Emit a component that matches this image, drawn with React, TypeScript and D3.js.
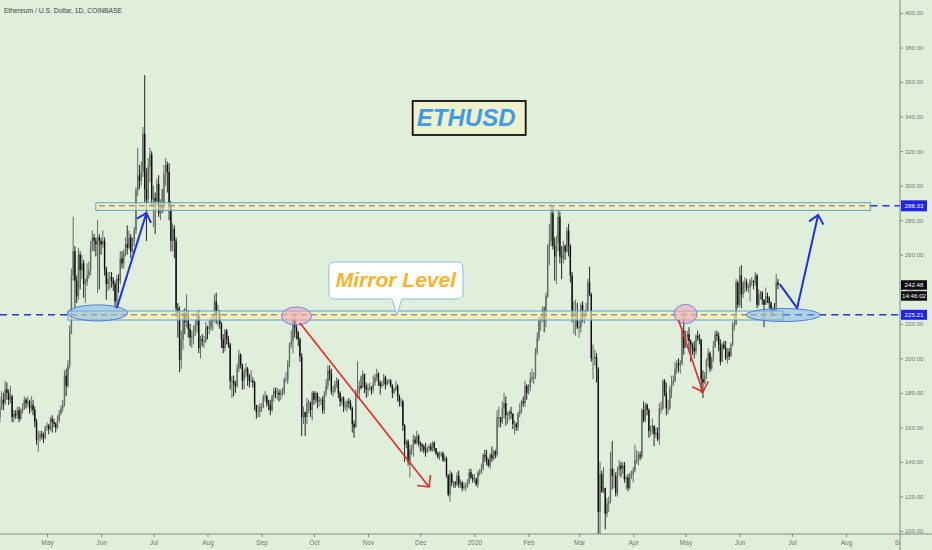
import { useEffect, useRef } from "react";
import * as d3 from "d3";

const W = 932;
const H = 550;
const PLOT_RIGHT = 900;
const PLOT_BOTTOM = 534;
const FONT = "'Liberation Sans', Arial, sans-serif";

// daily candles, [close, high, low]; open = previous close
const firstOpen = 163;
const firstDay = "2019-04-03";

const apr2019 = [
  [166, 184, 160], [172, 178, 163], [176, 181, 170], [174, 180, 170], [182, 187, 173], [180, 186, 176], [176, 182, 173], [178, 184, 174],
  [166, 179, 163], [168, 170, 163], [167, 170, 165], [170, 172, 165], [165, 172, 163], [170, 171, 164], [171, 174, 168], [176, 178, 170],
  [174, 177, 171], [175, 178, 172], [171, 176, 168], [173, 178, 169], [170, 176, 167], [163, 172, 160], [153, 165, 150], [154, 158, 146],
  [156, 158, 152], [155, 158, 153], [154, 157, 151], [160, 161, 153],
];
const may2019 = [
  [161, 163, 158], [159, 162, 156], [165, 166, 158], [163, 167, 157], [162, 165, 160], [160, 163, 157], [164, 167, 159], [168, 170, 163], [171, 173, 167], [173, 176, 169],
  [190, 193, 172], [184, 194, 178], [196, 199, 183], [216, 219, 194], [248, 252, 214], [262, 282, 245], [245, 265, 229], [236, 248, 232], [260, 264, 234], [251, 262, 240],
  [255, 260, 246], [243, 257, 235], [244, 246, 232], [248, 255, 242], [251, 256, 246], [264, 268, 248], [270, 274, 262], [268, 272, 262], [266, 270, 259], [270, 280, 238], [268, 272, 240],
];
const jun2019 = [
  [266, 270, 260], [268, 274, 264], [252, 270, 248], [243, 253, 234], [246, 250, 239], [247, 250, 240], [245, 250, 241], [243, 247, 239], [233, 245, 229], [246, 248, 231],
  [245, 249, 238], [258, 262, 243], [255, 262, 252], [261, 263, 252], [266, 270, 259], [264, 277, 260], [270, 274, 263], [262, 272, 258], [268, 270, 261], [274, 276, 265],
  [297, 299, 272], [306, 322, 294], [303, 312, 298], [308, 314, 300], [330, 334, 305], [298, 364, 290], [292, 310, 268], [311, 316, 290], [318, 322, 302], [292, 320, 288],
];
const jul2019 = [
  [293, 300, 276], [291, 296, 272], [301, 304, 288], [284, 306, 282], [288, 292, 280], [287, 298, 284], [307, 312, 285], [312, 316, 300], [308, 314, 296], [288, 313, 280],
  [268, 291, 262], [275, 278, 262], [268, 277, 258], [229, 270, 224], [227, 232, 212], [199, 230, 192], [211, 216, 194], [226, 228, 205], [221, 229, 214], [226, 237, 218],
  [217, 228, 212], [212, 220, 207], [213, 216, 206], [216, 219, 208], [219, 222, 213], [225, 227, 215], [206, 228, 203], [211, 213, 200], [210, 214, 207], [210, 213, 206], [218, 221, 209],
];
const aug2019 = [
  [217, 219, 211], [218, 222, 214], [222, 224, 216], [222, 225, 216], [233, 237, 221], [225, 238, 220], [226, 231, 219], [220, 228, 217], [211, 221, 206], [206, 214, 203],
  [216, 217, 204], [211, 217, 208], [208, 213, 206], [187, 209, 182], [187, 190, 177], [185, 190, 178], [184, 187, 180], [194, 197, 183], [202, 205, 192], [196, 203, 194],
  [187, 197, 182], [192, 194, 182], [194, 197, 189], [190, 195, 184], [187, 191, 183], [187, 193, 186], [186, 189, 183], [173, 187, 170], [169, 173, 165], [169, 173, 166], [172, 174, 166],
];
const sep2019 = [
  [172, 174, 169], [178, 179, 171], [178, 181, 175], [174, 179, 172], [173, 176, 170], [170, 176, 167], [178, 179, 169], [181, 183, 175], [180, 183, 177], [180, 183, 176],
  [179, 182, 175], [180, 182, 176], [180, 183, 178], [188, 189, 179], [188, 192, 186], [197, 199, 185], [208, 209, 195], [210, 216, 206], [222, 224, 203], [218, 226, 212],
  [215, 220, 211], [211, 216, 207], [201, 212, 198], [166, 203, 155], [169, 172, 162], [166, 169, 155], [174, 177, 162], [174, 176, 168], [170, 175, 166], [180, 181, 164],
];
const oct2019 = [
  [176, 181, 173], [180, 181, 174], [175, 180, 171], [176, 178, 172], [176, 177, 173], [170, 178, 168], [180, 181, 168], [184, 188, 178], [193, 196, 182], [191, 196, 187],
  [181, 194, 179], [181, 184, 178], [185, 187, 180], [187, 189, 183], [180, 188, 177], [175, 181, 172], [177, 178, 173], [172, 178, 169], [172, 175, 170], [175, 176, 169],
  [174, 177, 171], [171, 176, 170], [162, 172, 157], [160, 164, 154], [180, 182, 160], [180, 198, 177], [184, 187, 176], [183, 190, 182], [191, 193, 183], [184, 191, 180], [182, 186, 177],
];
const nov2019 = [
  [183, 185, 178], [183, 186, 181], [182, 184, 179], [186, 190, 180], [189, 191, 184], [191, 194, 187], [186, 192, 184], [184, 187, 179], [185, 187, 183], [189, 191, 184],
  [185, 190, 182], [187, 188, 184], [187, 188, 185], [184, 188, 183], [180, 185, 177], [182, 183, 179], [184, 187, 181], [178, 185, 175], [175, 179, 172], [175, 177, 172],
  [161, 176, 158], [150, 162, 140], [152, 153, 148], [140, 153, 138], [147, 150, 131], [148, 150, 144], [153, 156, 143], [151, 155, 150], [155, 158, 150], [151, 156, 149],
];
const dec2019 = [
  [150, 152, 146], [149, 151, 146], [147, 150, 145], [146, 151, 143], [148, 149, 145], [149, 150, 146], [147, 151, 146], [151, 152, 146], [148, 152, 146], [145, 148, 144],
  [143, 146, 142], [144, 146, 141], [145, 146, 143], [141, 146, 140], [142, 144, 140], [132, 143, 131], [121, 133, 120], [133, 135, 117], [128, 134, 126], [128, 129, 125],
  [127, 129, 125], [132, 134, 126], [127, 135, 125], [128, 130, 125], [125, 129, 123], [126, 128, 124], [126, 128, 123], [128, 130, 125], [134, 136, 127], [131, 136, 130], [130, 133, 128],
];
const jan2020 = [
  [130, 133, 128], [127, 131, 126], [134, 135, 125], [134, 136, 132], [136, 139, 133], [144, 145, 135], [143, 147, 140], [141, 147, 138], [138, 142, 137], [144, 145, 136],
  [142, 149, 140], [146, 147, 141], [144, 147, 142], [166, 170, 143], [166, 172, 160], [163, 166, 160], [171, 175, 162], [174, 180, 165], [167, 178, 161], [167, 169, 162],
  [169, 170, 164], [168, 172, 165], [162, 168, 159], [162, 164, 156], [160, 163, 158], [168, 169, 158], [170, 174, 166], [175, 176, 168], [174, 178, 172], [184, 187, 172], [180, 185, 176],
];
const feb2020 = [
  [183, 185, 179], [188, 192, 181], [189, 194, 186], [189, 192, 185], [204, 206, 188], [212, 215, 202], [222, 224, 210], [223, 226, 216], [228, 230, 221], [222, 230, 215],
  [236, 238, 218], [265, 266, 235], [268, 278, 254], [284, 289, 265], [265, 288, 263], [259, 270, 245], [267, 271, 243], [282, 286, 262], [259, 285, 255], [258, 265, 246],
  [265, 268, 255], [262, 266, 257], [274, 276, 261], [265, 278, 259], [248, 266, 244], [224, 250, 221], [227, 233, 214], [227, 234, 213], [218, 232, 217],
];
const mar2020 = [
  [218, 222, 212], [231, 232, 215], [224, 233, 221], [224, 228, 220], [228, 232, 223], [244, 246, 227], [237, 253, 236], [200, 238, 198], [200, 208, 188], [201, 205, 196],
  [194, 203, 186], [111, 195, 98], [133, 140, 90], [123, 135, 122], [125, 137, 122], [110, 125, 101], [116, 119, 108], [117, 120, 111], [136, 146, 116], [132, 152, 124],
  [132, 136, 125], [122, 134, 120], [135, 137, 120], [138, 141, 132], [136, 140, 131], [138, 140, 133], [130, 140, 128], [131, 132, 124], [125, 133, 123], [132, 134, 124], [133, 135, 130],
];
const apr2020 = [
  [135, 137, 128], [141, 150, 134], [141, 147, 139], [144, 146, 138], [143, 146, 141], [170, 171, 142], [164, 175, 163], [173, 174, 163], [170, 174, 167], [158, 171, 154],
  [158, 161, 155], [161, 165, 156], [156, 161, 149], [157, 160, 154], [153, 160, 152], [171, 174, 150], [171, 175, 168], [187, 188, 170], [180, 188, 178], [171, 186, 167],
  [171, 176, 168], [182, 184, 170], [185, 190, 177], [187, 190, 184], [194, 198, 186], [197, 199, 191], [196, 200, 192], [197, 199, 191], [216, 218, 196], [206, 227, 202],
];
const may2020 = [
  [212, 216, 206], [214, 216, 210], [210, 218, 205], [208, 211, 198], [206, 209, 202], [204, 210, 200], [213, 214, 202], [212, 216, 210], [211, 214, 208], [188, 211, 180],
  [186, 193, 177], [190, 192, 185], [199, 200, 188], [203, 206, 195], [194, 204, 192], [200, 201, 193], [207, 210, 198], [214, 216, 206], [213, 216, 210], [208, 215, 204],
  [198, 211, 196], [208, 209, 198], [206, 210, 205], [200, 210, 199], [204, 206, 197], [201, 206, 199], [208, 209, 201], [219, 221, 207], [220, 225, 216], [244, 246, 219], [231, 245, 229],
];
const jun2020 = [
  [248, 253, 230], [237, 254, 229], [244, 245, 235], [244, 247, 238], [241, 246, 239], [241, 243, 238], [245, 246, 233], [245, 247, 242], [244, 245, 240], [248, 250, 242],
  [231, 249, 229], [237, 240, 230], [238, 239, 234], [234, 239, 231], [231, 234, 218], [236, 241, 231], [235, 238, 232], [232, 236, 229], [228, 233, 224], [229, 230, 224],
  [228, 232, 227], [244, 249, 227], [242.48, 246, 240],
];

const monthsData = [
  apr2019, may2019, jun2019, jul2019, aug2019, sep2019, oct2019, nov2019, dec2019,
  jan2020, feb2020, mar2020, apr2020, may2020, jun2020,
];

const priceTicks = [100, 120, 140, 160, 180, 200, 220, 240, 260, 280, 300, 320, 340, 360, 380, 400];
const monthTickDates = [
  "2019-05-01", "2019-06-01", "2019-07-01", "2019-08-01", "2019-09-01", "2019-10-01", "2019-11-01", "2019-12-01",
  "2020-01-01", "2020-02-01", "2020-03-01", "2020-04-01", "2020-05-01", "2020-06-01", "2020-07-01", "2020-08-01", "2020-09-01",
];
const monthTickLabels = ["May", "Jun", "Jul", "Aug", "Sep", "Oct", "Nov", "Dec", "2020", "Feb", "Mar", "Apr", "May", "Jun", "Jul", "Aug", "Sep"];

// drawings
const upperZone = { from: "2019-05-29", to: "2020-08-15", low: 285.7, high: 290.1, level: 288.33 };
const lowerZone = { from: "2019-05-13", to: "2020-06-26", low: 222.2, high: 227.4, level: 225.21 };
const lastPrice = 242.48;
const countdown = "14:46:02";

const blueEllipses = [
  { date: "2019-05-30", price: 226.3, rx: 30, ry: 8 },
  { date: "2020-06-26", price: 225.1, rx: 37, ry: 6.5 },
];
const pinkEllipses = [
  { date: "2019-09-21", price: 224.5, rx: 15, ry: 9 },
  { date: "2020-05-01", price: 225.7, rx: 11.5, ry: 9.5 },
];
const blueArrows: [string, number][][] = [
  [["2019-06-10", 229.1], ["2019-06-27", 284.2]],
  [["2020-06-24", 243.0], ["2020-07-04", 229.1], ["2020-07-16", 283.0]],
];
const redArrows: [string, number][][] = [
  [["2019-09-23", 220.5], ["2019-12-06", 125.5]],
  [["2020-04-27", 222.2], ["2020-05-11", 180.5]],
];
const titleLabel = { text: "ETHUSD", date: "2019-12-29", price: 339.2 };
const calloutLabel = { text: "Mirror Level", date: "2019-11-17", price: 245.1, tipPrice: 225.2 };

const parse = d3.utcParse("%Y-%m-%d");

interface Candle { date: Date; open: number; high: number; low: number; close: number; }

const candles: Candle[] = [];
{
  let prev = firstOpen;
  const start = parse(firstDay) as Date;
  monthsData.flat().forEach(([c, h, l], i) => {
    candles.push({
      date: d3.utcDay.offset(start, i),
      open: prev,
      close: c,
      high: Math.max(h, prev, c),
      low: Math.min(l, prev, c),
    });
    prev = c;
  });
}

export default function App() {
  const ref = useRef<SVGSVGElement>(null);

  useEffect(() => {
    if (!ref.current) return;
    const svg = d3.select(ref.current);
    svg.selectAll("*").remove();

    const x = d3
      .scaleUtc()
      .domain([parse("2019-05-01") as Date, parse("2020-08-01") as Date])
      .range([47, 846]);
    const y = d3.scaleLinear().domain([100, 400]).range([531, 13]);
    const X = (d: string) => x(parse(d) as Date);

    svg.append("rect").attr("width", W).attr("height", H).attr("fill", "#dfefdb");

    const defs = svg.append("defs");
    defs.append("clipPath").attr("id", "plot").append("rect")
      .attr("width", PLOT_RIGHT).attr("height", PLOT_BOTTOM);
    defs.append("clipPath").attr("id", "xaxis").append("rect")
      .attr("y", PLOT_BOTTOM).attr("width", PLOT_RIGHT).attr("height", H - PLOT_BOTTOM);

    const plot = svg.append("g").attr("clip-path", "url(#plot)");

    // candles
    const bw = 1.4;
    const cg = plot.append("g");
    candles.forEach((d) => {
      const up = d.close >= d.open;
      const col = up ? "#646a64" : "#101010";
      const cx = x(d.date);
      cg.append("line")
        .attr("x1", cx).attr("x2", cx)
        .attr("y1", y(d.high)).attr("y2", y(d.low))
        .attr("stroke", up ? "#555b55" : "#101010").attr("stroke-width", 0.9);
      const top = y(Math.max(d.open, d.close));
      const bot = y(Math.min(d.open, d.close));
      cg.append("rect")
        .attr("x", cx - bw / 2).attr("y", top)
        .attr("width", bw).attr("height", Math.max(0.8, bot - top))
        .attr("fill", col);
    });

    // blue dashed levels outside the zones
    const dashBlue = (x1: number, x2: number, p: number) =>
      plot.append("line")
        .attr("x1", x1).attr("x2", x2).attr("y1", y(p)).attr("y2", y(p))
        .attr("stroke", "#2a34d6").attr("stroke-width", 1.6).attr("stroke-dasharray", "7,5");
    dashBlue(0, X(lowerZone.from), lowerZone.level);
    dashBlue(X(lowerZone.to), PLOT_RIGHT, lowerZone.level);
    dashBlue(X(upperZone.to), PLOT_RIGHT, upperZone.level);

    // zones
    [upperZone, lowerZone].forEach((z) => {
      plot.append("rect")
        .attr("x", X(z.from)).attr("y", y(z.high))
        .attr("width", X(z.to) - X(z.from)).attr("height", y(z.low) - y(z.high))
        .attr("fill", "rgba(255,240,165,0.62)")
        .attr("stroke", "#4fa3e6").attr("stroke-width", 1);
      plot.append("line")
        .attr("x1", X(z.from) + 3).attr("x2", X(z.to))
        .attr("y1", y(z.level)).attr("y2", y(z.level))
        .attr("stroke", "#9294a8").attr("stroke-width", 1.5).attr("stroke-dasharray", "6,4");
    });

    // ellipses
    blueEllipses.forEach((e) => {
      plot.append("ellipse")
        .attr("cx", X(e.date)).attr("cy", y(e.price)).attr("rx", e.rx).attr("ry", e.ry)
        .attr("fill", "rgba(125,180,238,0.5)").attr("stroke", "#4d7be0").attr("stroke-width", 1);
    });
    pinkEllipses.forEach((e) => {
      plot.append("ellipse")
        .attr("cx", X(e.date)).attr("cy", y(e.price)).attr("rx", e.rx).attr("ry", e.ry)
        .attr("fill", "rgba(242,168,182,0.6)").attr("stroke", "#7c7de6").attr("stroke-width", 1);
    });

    // arrows
    const drawArrow = (pts: [string, number][], color: string, width: number, headLen: number, headAng: number) => {
      const px = pts.map(([d, p]) => [X(d), y(p)] as [number, number]);
      plot.append("path")
        .attr("d", d3.line()(px))
        .attr("fill", "none").attr("stroke", color).attr("stroke-width", width)
        .attr("stroke-linejoin", "round");
      const tip = px[px.length - 1];
      const from = px[px.length - 2];
      const a = Math.atan2(from[1] - tip[1], from[0] - tip[0]);
      const p1: [number, number] = [tip[0] + headLen * Math.cos(a + headAng), tip[1] + headLen * Math.sin(a + headAng)];
      const p2: [number, number] = [tip[0] + headLen * Math.cos(a - headAng), tip[1] + headLen * Math.sin(a - headAng)];
      plot.append("path")
        .attr("d", d3.line()([p1, tip, p2]))
        .attr("fill", "none").attr("stroke", color).attr("stroke-width", width)
        .attr("stroke-linejoin", "miter");
    };
    blueArrows.forEach((a) => drawArrow(a, "#2230e0", 2, 11, Math.PI / 4.3));
    redArrows.forEach((a) => drawArrow(a, "#ec2626", 1.6, 12, Math.PI / 4));

    // ETHUSD label
    const tx = X(titleLabel.date);
    const ty = y(titleLabel.price);
    plot.append("rect")
      .attr("x", tx - 56.5).attr("y", ty - 17).attr("width", 113).attr("height", 34)
      .attr("fill", "#eef2cc").attr("stroke", "#111").attr("stroke-width", 1.8);
    plot.append("text")
      .attr("x", tx - 3).attr("y", ty + 8.5)
      .attr("text-anchor", "middle")
      .attr("font-family", FONT).attr("font-size", 24).attr("font-weight", 700).attr("font-style", "italic")
      .attr("fill", "#3f9ae8")
      .text(titleLabel.text);

    // Mirror Level callout
    const mx = X(calloutLabel.date);
    const my = y(calloutLabel.price);
    const tipY = y(calloutLabel.tipPrice);
    const bx0 = mx - 67, bx1 = mx + 67, by0 = my - 18.5, by1 = my + 18.5, r = 5;
    const callout = d3.path();
    callout.moveTo(bx0 + r, by0);
    callout.lineTo(bx1 - r, by0);
    callout.arcTo(bx1, by0, bx1, by0 + r, r);
    callout.lineTo(bx1, by1 - r);
    callout.arcTo(bx1, by1, bx1 - r, by1, r);
    callout.lineTo(mx + 6, by1);
    callout.lineTo(mx + 1, tipY);
    callout.lineTo(mx - 4, by1);
    callout.lineTo(bx0 + r, by1);
    callout.arcTo(bx0, by1, bx0, by1 - r, r);
    callout.lineTo(bx0, by0 + r);
    callout.arcTo(bx0, by0, bx0 + r, by0, r);
    callout.closePath();
    plot.append("path")
      .attr("d", callout.toString())
      .attr("fill", "#ffffff").attr("stroke", "#8dbde8").attr("stroke-width", 1);
    plot.append("text")
      .attr("x", mx).attr("y", my + 7)
      .attr("text-anchor", "middle")
      .attr("font-family", FONT).attr("font-size", 21).attr("font-weight", 700).attr("font-style", "italic")
      .attr("fill", "#f6b52a")
      .text(calloutLabel.text);

    // axes
    const axisColor = "#7f8a80";
    const textColor = "#737873";

    const yAxis = svg.append("g")
      .attr("transform", `translate(${PLOT_RIGHT},0)`)
      .call(d3.axisRight(y).tickValues(priceTicks).tickSize(3).tickPadding(2).tickFormat(d3.format(".2f")));
    yAxis.select(".domain").remove();
    yAxis.selectAll("line").attr("stroke", axisColor);
    yAxis.selectAll("text").attr("fill", textColor).attr("font-size", 6).attr("font-family", FONT);

    const xAxis = svg.append("g")
      .attr("clip-path", "url(#xaxis)")
      .append("g")
      .attr("transform", `translate(0,${PLOT_BOTTOM})`)
      .call(
        d3.axisBottom(x)
          .tickValues(monthTickDates.map((d) => parse(d) as Date))
          .tickSize(3)
          .tickPadding(3.5)
          .tickFormat((_, i) => monthTickLabels[i])
      );
    xAxis.select(".domain").remove();
    xAxis.selectAll("line").attr("stroke", axisColor);
    xAxis.selectAll("text").attr("fill", textColor).attr("font-size", 6.5).attr("font-family", FONT);

    svg.append("line")
      .attr("x1", 0).attr("x2", W).attr("y1", PLOT_BOTTOM).attr("y2", PLOT_BOTTOM)
      .attr("stroke", axisColor).attr("stroke-width", 1);
    svg.append("line")
      .attr("x1", PLOT_RIGHT).attr("x2", PLOT_RIGHT).attr("y1", 0).attr("y2", H)
      .attr("stroke", axisColor).attr("stroke-width", 1);

    // price labels on the axis
    const priceTag = (cy: number, h: number, fill: string, label: string) => {
      svg.append("rect")
        .attr("x", PLOT_RIGHT + 1).attr("y", cy - h / 2).attr("width", 26).attr("height", h)
        .attr("fill", fill);
      svg.append("text")
        .attr("x", PLOT_RIGHT + 14).attr("y", cy + 2.2)
        .attr("text-anchor", "middle")
        .attr("font-family", FONT).attr("font-size", 6.2).attr("fill", "#ffffff")
        .text(label);
    };
    priceTag(y(upperZone.level), 11, "#1f24e8", d3.format(".2f")(upperZone.level));
    priceTag(y(lowerZone.level), 10, "#1f24e8", d3.format(".2f")(lowerZone.level));
    priceTag(y(lastPrice), 9.5, "#0d0d0d", d3.format(".2f")(lastPrice));
    priceTag(y(lastPrice) + 11, 9.5, "#0d0d0d", countdown);

    // chart title
    svg.append("text")
      .attr("x", 4).attr("y", 12.5)
      .attr("font-family", FONT).attr("font-size", 7.5).attr("fill", "#3f443f")
      .attr("textLength", 118).attr("lengthAdjust", "spacingAndGlyphs")
      .text("Ethereum / U.S. Dollar, 1D, COINBASE");
  }, []);

  return (
    <svg
      ref={ref}
      width={W}
      height={H}
      style={{ position: "absolute", left: 0, top: 0, display: "block" }}
    />
  );
}
